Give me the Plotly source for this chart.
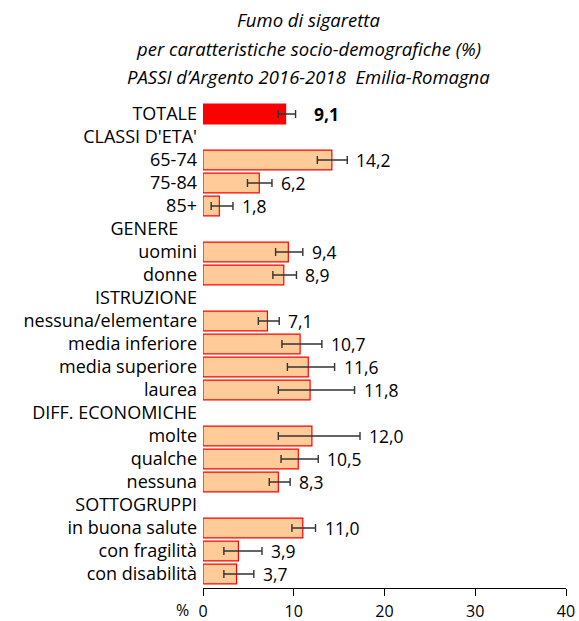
import plotly.graph_objects as go

fnt = "Open Sans"
(fill_color, total_color, edge_color) = ("#FFCC99", "#FF0000", "#FF0000")

categories = ["TOTALE", "CLASSI D'ETA'", "65-74", "75-84", "85+",
              "GENERE", "uomini", "donne",
              "ISTRUZIONE", "nessuna/elementare", "media inferiore", "media superiore", "laurea",
              "DIFF. ECONOMICHE", "molte", "qualche", "nessuna",
              "SOTTOGRUPPI", "in buona salute", "con fragilità", "con disabilità"]
values = [9.1, None, 14.2, 6.2, 1.8,
          None, 9.4, 8.9,
          None, 7.1, 10.7, 11.6, 11.8,
          None, 12.0, 10.5, 8.3,
          None, 11.0, 3.9, 3.7]
ci_low = [8.3, None, 12.6, 4.9, 0.9,
          None, 8.0, 7.7,
          None, 6.1, 8.7, 9.3, 8.3,
          None, 8.3, 8.6, 7.3,
          None, 9.8, 2.3, 2.3]
ci_high = [10.2, None, 15.9, 7.6, 3.3,
           None, 11.0, 10.3,
           None, 8.4, 13.1, 14.5, 16.7,
           None, 17.3, 12.7, 9.6,
           None, 12.4, 6.5, 5.6]
x_ticks = [0, 10, 20, 30, 40]
title_lines = ["Fumo di sigaretta",
               "per caratteristiche socio-demografiche (%)",
               "PASSI d’Argento 2016-2018  Emilia-Romagna"]

err_plus = [None if v is None else h - v for v, h in zip(values, ci_high)]
err_minus = [None if v is None else v - l for v, l in zip(values, ci_low)]
colors = [total_color if c == "TOTALE" else fill_color for c in categories]
tick_text = [c + "\u00a0" * 4 if c == "GENERE" else c for c in categories]

fig = go.Figure()
fig.add_trace(go.Bar(
    x=values, y=categories, orientation="h", width=0.86,
    marker=dict(color=colors, line=dict(color=edge_color, width=1.2)),
    error_x=dict(type="data", symmetric=False, array=err_plus, arrayminus=err_minus,
                 color="#333333", thickness=1.4, width=4),
    hoverinfo="skip", showlegend=False))

for c, v, h in zip(categories, values, ci_high):
    if v is None:
        continue
    bold = c == "TOTALE"
    fig.add_annotation(
        x=h, y=c, xref="x", yref="y", xanchor="left", yanchor="middle",
        xshift=16 if bold else 7, showarrow=False,
        text=f"{v:.1f}".replace(".", ","),
        font=dict(family=fnt, size=17.5, color="#000000", weight="bold" if bold else "normal"))

# title, three centred lines
for i, line in enumerate(title_lines):
    fig.add_annotation(
        x=0.29, y=1.164 - i * 0.0575, xref="paper", yref="paper",
        xanchor="center", yanchor="middle", showarrow=False,
        text=f"<i>{line}</i>", font=dict(family=fnt, size=18.5, color="#000000"))

fig.add_annotation(x=0, y=0, xref="x", yref="paper", xanchor="right", yanchor="middle",
                   xshift=-12, yshift=-22, showarrow=False, text="%",
                   font=dict(family=fnt, size=16, color="#000000"))

fig.update_xaxes(
    range=[0, 40], tickvals=x_ticks, ticktext=[str(t) for t in x_ticks],
    showgrid=False, zeroline=False, showline=True, linecolor="#000000", linewidth=1,
    ticks="outside", ticklen=7, tickcolor="#000000", automargin=False, ticklabelstandoff=2,
    tickfont=dict(family=fnt, size=16, color="#000000"))
fig.update_yaxes(
    tickvals=categories, ticktext=tick_text, autorange="reversed",
    showgrid=False, zeroline=False, showline=False, ticks="", ticklabelstandoff=5,
    automargin=False, tickfont=dict(family=fnt, size=18, color="#000000"))

fig.update_layout(
    width=579, height=621,
    margin=dict(l=203, r=13, t=100, b=33),
    plot_bgcolor="white", paper_bgcolor="white",
    bargap=0.14)

fig.write_html("out.html", config={"displayModeBar": False},
               post_script="document.body.style.margin='0';document.body.style.overflow='hidden';window.scrollTo(0,0);")
